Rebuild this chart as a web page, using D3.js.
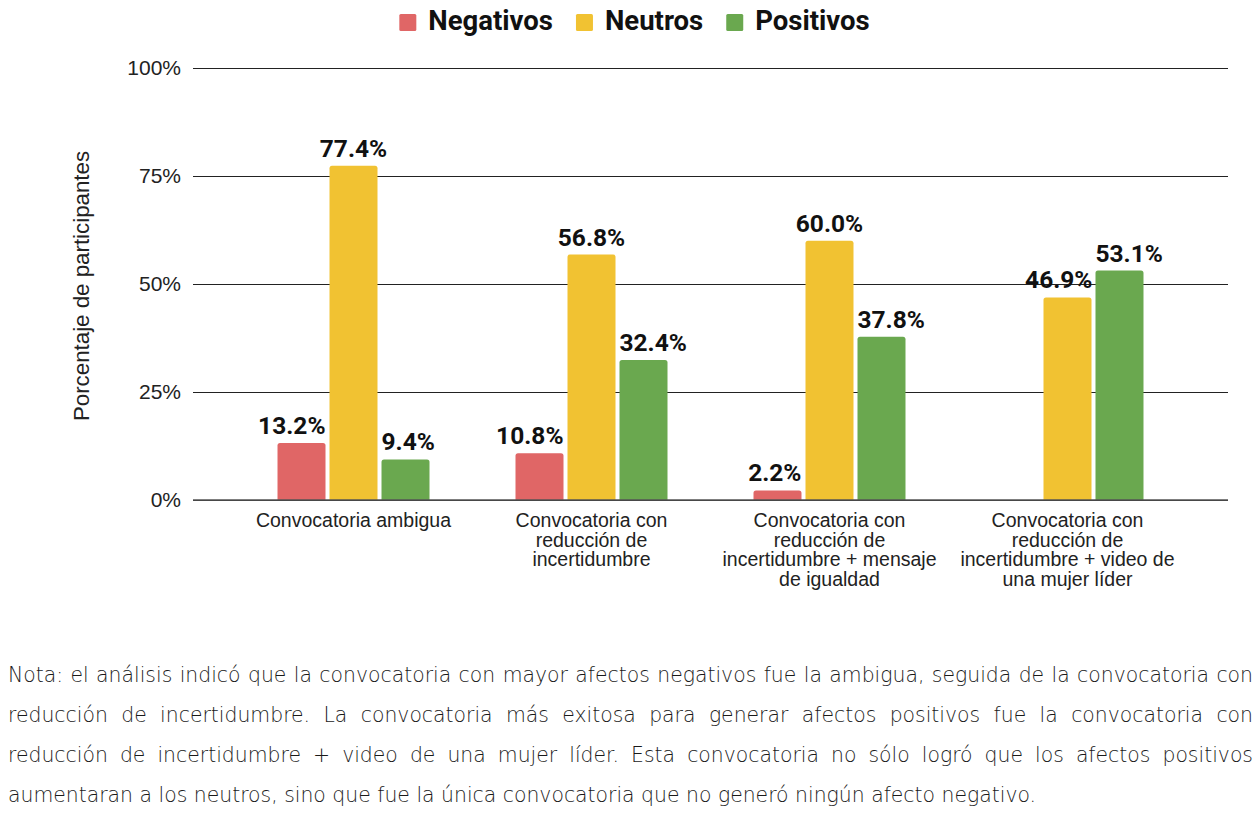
<!DOCTYPE html>
<html>
<head>
<meta charset="utf-8">
<script src="https://cdn.jsdelivr.net/npm/d3@7"></script>
<style>
  html, body { margin: 0; padding: 0; background: #fff; }
  svg { display: block; }
</style>
</head>
<body>
<svg id="chart" width="1260" height="818"></svg>
<script>
// ---- data ----
const categories = [
  ["Convocatoria ambigua"],
  ["Convocatoria con", "reducción de", "incertidumbre"],
  ["Convocatoria con", "reducción de", "incertidumbre + mensaje", "de igualdad"],
  ["Convocatoria con", "reducción de", "incertidumbre + video de", "una mujer líder"]
];
const seriesNames = ["Negativos", "Neutros", "Positivos"];
const seriesColors = ["#e06666", "#f1c232", "#6aa84f"];
const negativos = [13.2, 10.8, 2.2, null];
const neutros = [77.4, 56.8, 60.0, 46.9];
const positivos = [9.4, 32.4, 37.8, 53.1];
const yTicks = [0, 25, 50, 75, 100];
const yTitle = "Porcentaje de participantes";
const noteLines = [
  "Nota: el análisis indicó que la convocatoria con mayor afectos negativos fue la ambigua, seguida de la convocatoria con",
  "reducción de incertidumbre. La convocatoria más exitosa para generar afectos positivos fue la convocatoria con",
  "reducción de incertidumbre + video de una mujer líder. Esta convocatoria no sólo logró que los afectos positivos",
  "aumentaran a los neutros, sino que fue la única convocatoria que no generó ningún afecto negativo."
];

const values = [negativos, neutros, positivos];

(function () {
// ---- layout ----
const svg = d3.select("#chart");
const pLeft = 193, pRight = 1228, pTop = 68, pBottom = 500;
const catIdx = categories.map((d, i) => i);
const axisFont = "'Liberation Sans', Arial, sans-serif";

const x = d3.scaleBand().domain(catIdx).range([pLeft, pRight]).paddingInner(0).paddingOuter(0.1744);
const xs = d3.scaleBand().domain(seriesNames).range([-78, 78]).paddingInner(4 / 52).paddingOuter(2 / 52);
const y = d3.scaleLinear().domain([0, 100]).range([pBottom, pTop]);

// gridlines + tick labels
const yAxis = d3.axisLeft(y).tickValues(yTicks).tickSize(-(pRight - pLeft)).tickPadding(12).tickFormat(d => d + "%");
const gy = svg.append("g").attr("transform", `translate(${pLeft},0)`).call(yAxis);
gy.select(".domain").remove();
gy.selectAll(".tick line").attr("stroke", "#222").attr("stroke-width", 1).attr("shape-rendering", "crispEdges");
gy.selectAll(".tick text").attr("font-family", axisFont).attr("font-size", 21).attr("fill", "#222");

// y title
svg.append("text")
  .attr("transform", `translate(89,${(pTop + pBottom) / 2 + 2}) rotate(-90)`)
  .attr("text-anchor", "middle")
  .attr("font-family", axisFont).attr("font-size", 22.3).attr("fill", "#222")
  .text(yTitle);

// bars
function barPath(x0, w, y0, y1, r) {
  const h = y1 - y0;
  r = Math.min(r, h, w / 2);
  return `M${x0},${y1}V${y0 + r}Q${x0},${y0} ${x0 + r},${y0}H${x0 + w - r}Q${x0 + w},${y0} ${x0 + w},${y0 + r}V${y1}Z`;
}

const groups = svg.append("g");
const labelData = [];
catIdx.forEach(ci => {
  seriesNames.forEach((s, si) => {
    const v = values[si][ci];
    if (v === null || v === undefined) return;
    const bx = x(ci) + x.bandwidth() / 2 + xs(s);
    groups.append("path")
      .attr("d", barPath(bx, xs.bandwidth(), y(v), y(0), 2.5))
      .attr("fill", seriesColors[si]);
    let anchor = "middle", lx = bx + xs.bandwidth() / 2;
    if (si === 0) { anchor = "end"; lx = bx + xs.bandwidth(); }
    else if (si === 2) { anchor = "start"; lx = bx; }
    else if (si === 1 && positivos[ci] > v) { anchor = "end"; lx = bx + xs.bandwidth() + 1; }
    labelData.push({ v, lx, ly: y(v) - 9, anchor });
  });
});

// baseline
svg.append("line")
  .attr("x1", pLeft).attr("x2", pRight).attr("y1", y(0)).attr("y2", y(0))
  .attr("stroke", "#555").attr("stroke-width", 1.5);

// value labels
svg.append("g").selectAll("text").data(labelData).join("text")
  .attr("x", d => d.lx).attr("y", d => d.ly)
  .attr("text-anchor", d => d.anchor)
  .attr("font-family", "Roboto").attr("font-weight", 700).attr("font-size", 24.5).attr("fill", "#111")
  .text(d => d.v.toFixed(1) + "%");

// category labels
catIdx.forEach(ci => {
  const t = svg.append("text")
    .attr("text-anchor", "middle")
    .attr("font-family", axisFont).attr("font-size", 19.5).attr("fill", "#222");
  categories[ci].forEach((line, li) => {
    t.append("tspan").attr("x", x(ci) + x.bandwidth() / 2).attr("y", 527 + li * 19.5).text(line);
  });
});

// legend
const legend = svg.append("g");
let lxPos = 0;
seriesNames.forEach((s, i) => {
  const g = legend.append("g");
  g.append("rect").attr("x", 0).attr("y", -16).attr("width", 17).attr("height", 17).attr("rx", 1.5).attr("fill", seriesColors[i]);
  const t = g.append("text").attr("x", 29).attr("y", 0)
    .attr("font-family", "Roboto").attr("font-weight", 700).attr("font-size", 27.5).attr("fill", "#111").text(s);
  const w = 29 + t.node().getComputedTextLength();
  g.attr("transform", `translate(${lxPos},0)`);
  lxPos += w + 23;
});
const legendW = lxPos - 23;
legend.attr("transform", `translate(${634.5 - legendW / 2},30)`);

// note (justified lines)
const noteG = svg.append("g").attr("font-family", "'DejaVu Sans'").attr("font-weight", 200).attr("font-size", 20.4).attr("fill", "#1a1a1a");
const noteLeft = 8, noteRight = 1253;
noteLines.forEach((line, li) => {
  const words = line.split(" ");
  const baseY = 682 + li * 40;
  const tmp = noteG.append("text").attr("x", 0).attr("y", baseY);
  const widths = words.map(w => { tmp.text(w); return tmp.node().getComputedTextLength(); });
  tmp.text("a a");
  const aa = tmp.node().getComputedTextLength();
  tmp.text("aa");
  const spaceW = aa - tmp.node().getComputedTextLength();
  tmp.remove();
  const total = d3.sum(widths);
  const last = li === noteLines.length - 1;
  const gap = last ? spaceW : (noteRight - noteLeft - total) / (words.length - 1);
  let cx = noteLeft;
  words.forEach((w, wi) => {
    noteG.append("text").attr("x", cx).attr("y", baseY).text(w);
    cx += widths[wi] + gap;
  });
});
})();
</script>
</body>
</html>
